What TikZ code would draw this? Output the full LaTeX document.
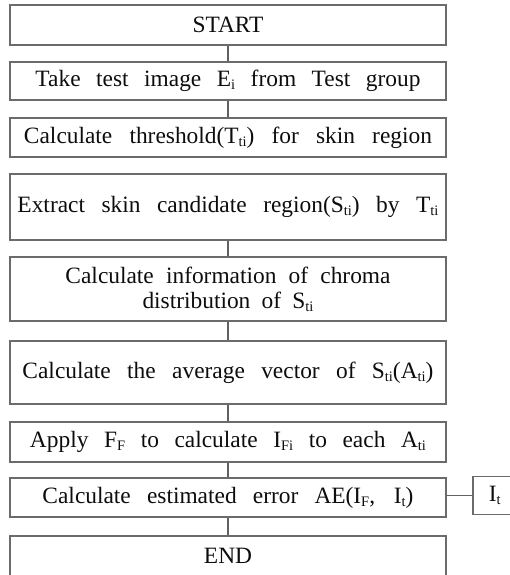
\documentclass[tikz,border=0pt]{standalone}
\usepackage{fontspec}
\setmainfont{Liberation Serif}
\newcommand{\sbs}[1]{\raisebox{-3bp}{\fontsize{14.5bp}{14.5bp}\selectfont #1}}
\newcommand{\jl}[2]{\makebox[#1bp][s]{#2}}
\begin{document}
\begin{tikzpicture}[x=1bp,y=-1bp,
  box/.style={draw=black!58, line width=1.6bp, rectangle, minimum width=436bp, inner sep=0pt, align=center,
    font=\fontsize{23.4bp}{25bp}\selectfont, text=black!95},
  link/.style={draw=black!62, line width=1.3bp}]
\useasboundingbox (0,0) rectangle (510,575);
\node[box, minimum height=40bp] (start) at (228,25) {START};
\node[box, minimum height=38bp] (take) at (228,81) {\jl{385}{Take test image E\sbs{i} from Test group}};
\node[box, minimum height=39bp] (thr) at (228,137.5) {\jl{408}{Calculate threshold(T\sbs{ti}) for skin region}};
\node[box, minimum height=66bp] (ext) at (228,207) {\jl{421}{Extract skin candidate region(S\sbs{ti}) by T\sbs{ti}}};
\node[box, minimum height=64bp] (info) at (228,289) {\jl{325}{Calculate information of chroma}\\ \jl{171}{distribution of S\sbs{ti}}};
\node[box, minimum height=63bp] (avg) at (228,372.5) {\jl{411}{Calculate the average vector of S\sbs{ti}(A\sbs{ti})}};
\node[box, minimum height=40bp] (app) at (228,442) {\jl{396}{Apply F\sbs{F} to calculate I\sbs{Fi} to each A\sbs{ti}}};
\node[box, minimum height=39bp] (est) at (228,497.5) {\jl{371}{Calculate estimated error AE(I\sbs{F}, I\sbs{t})}};
\node[box, minimum height=40bp] (end) at (228,556) {END};
\node[box, minimum height=38bp, minimum width=0pt, text width=40bp, inner xsep=16bp, align=left, anchor=west] (it) at (472,495.5) {I\sbs{t}};
\draw[link] (start) -- (take);
\draw[link] (take) -- (thr);
\draw[link] (ext) -- (info);
\draw[link] (info) -- (avg);
\draw[link] (avg) -- (app);
\draw[link] (app) -- (est);
\draw[link] (est) -- (end);
\draw[link] (est.east |- it.west) -- (it.west);
\end{tikzpicture}
\end{document}
